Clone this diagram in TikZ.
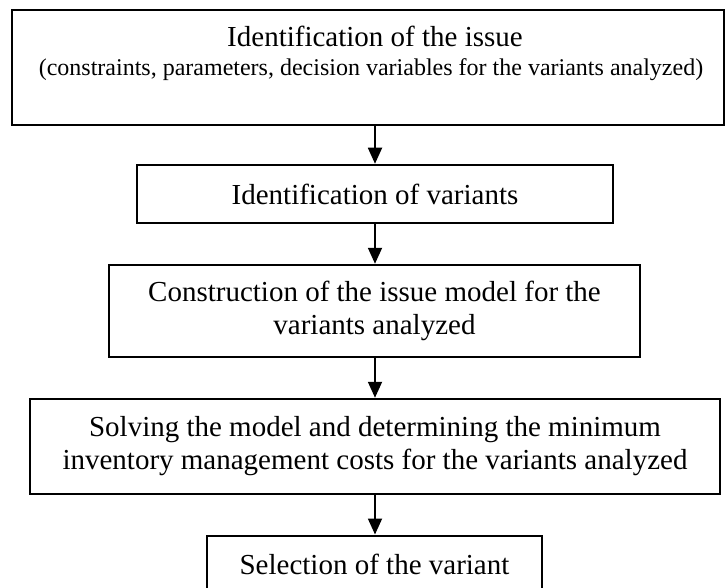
\documentclass[tikz,border=0pt]{standalone}
\usepackage{fontspec}
\setmainfont{Liberation Serif}
\usetikzlibrary{arrows.meta}
\begin{document}
\begin{tikzpicture}[x=1pt,y=1pt,
  box/.style={draw=black, line width=1.5pt, inner sep=0pt, align=center,
    font=\fontsize{29}{33}\selectfont},
  maintext/.style={inner sep=0pt, anchor=base, font=\fontsize{29}{33}\selectfont},
  subtext/.style={inner sep=0pt, anchor=base, font=\fontsize{24}{28}\selectfont},
  flow/.style={line width=1.8pt, -{Triangle[width=14pt,length=16pt]}, shorten >=0.5pt}]
\useasboundingbox (0,0) rectangle (725,-588);
\clip (0,0) rectangle (725,-588);
% boxes
\node[box, minimum width=712, minimum height=115] (b1) at (368,-67.5) {};
\node[maintext] (t1a) at (375,-47) {Identification of the issue};
\node[subtext] (t1b) at (371,-76) {(constraints, parameters, decision variables for the variants analyzed)};
\node[box, minimum width=476, minimum height=58] (b2) at (375,-194) {Identification of variants};
\node[box, minimum width=531, minimum height=92] (b3) at (374.5,-311) {Construction of the issue model for the\\variants analyzed};
\node[box, minimum width=690, minimum height=95] (b4) at (375,-446.5) {Solving the model and determining the minimum\\inventory management costs for the variants analyzed};
\node[box, minimum width=335, minimum height=58, anchor=north] (b5) at (374.5,-535) {Selection of the variant};
% connectors
\draw[flow] (b2.north |- b1.south) -- (b2.north);
\draw[flow] (b2.south) -- (b2.south |- b3.north);
\draw[flow] (b2.south |- b3.south) -- (b2.south |- b4.north);
\draw[flow] (b2.south |- b4.south) -- (b2.south |- b5.north);
\end{tikzpicture}
\end{document}
